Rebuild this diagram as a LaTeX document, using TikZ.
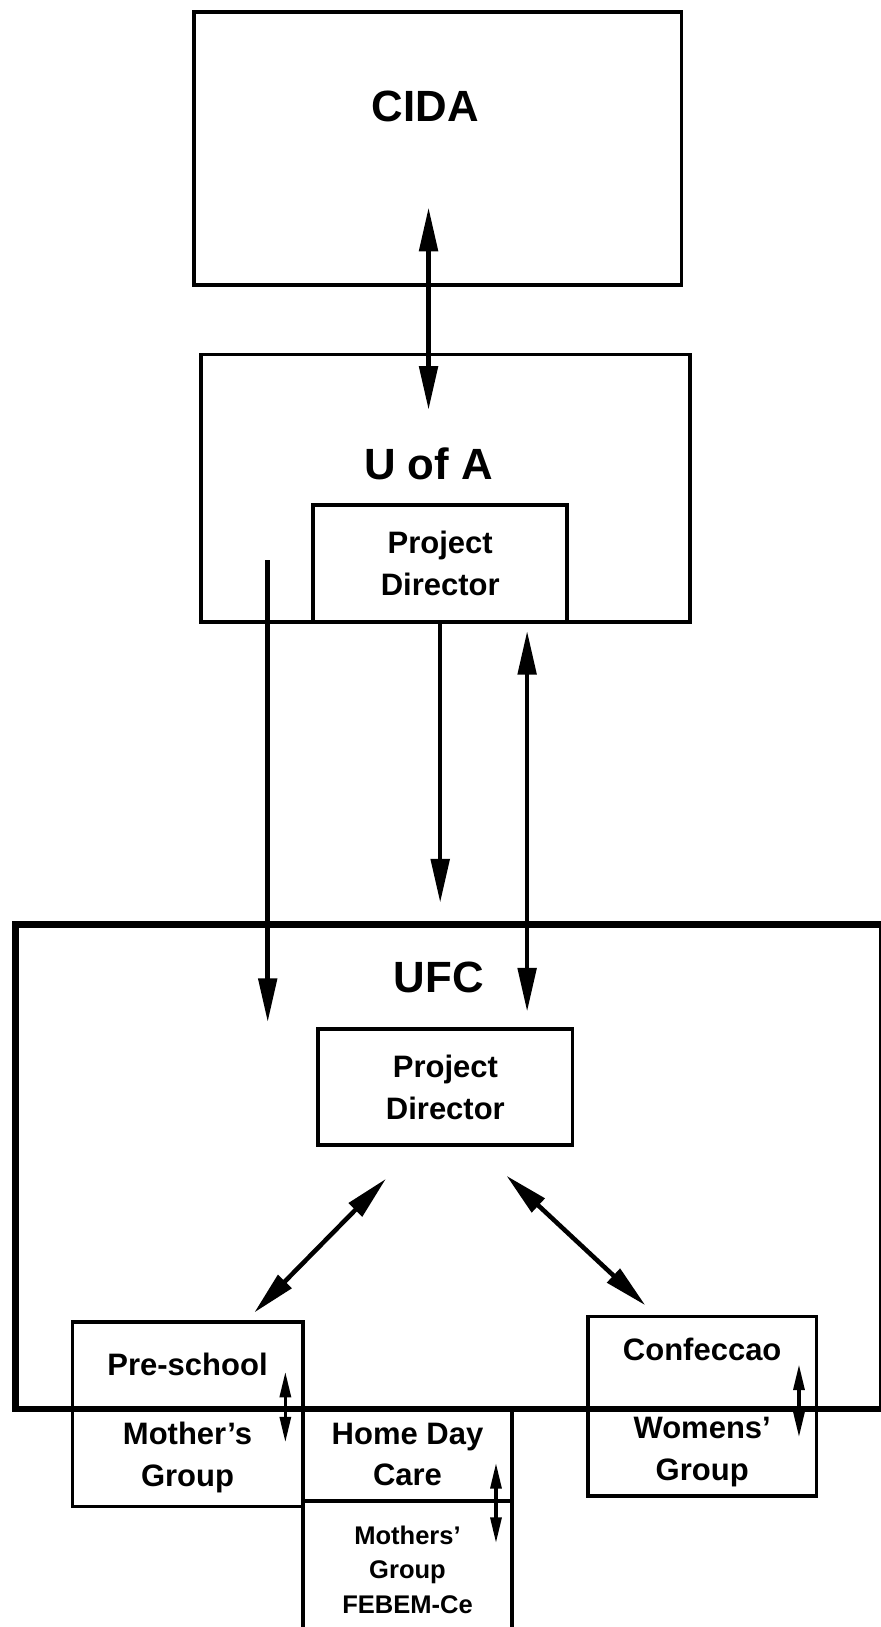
\documentclass[tikz,border=0pt]{standalone}
\usepackage{fontspec}
\setmainfont{Liberation Sans}
\usetikzlibrary{arrows.meta}

\begin{document}
\begin{tikzpicture}[x=0.02cm,y=-0.02cm,
  box/.style={draw,line width=2pt,inner sep=0pt,anchor=north west},
  big/.style={font=\fontsize{24}{28}\selectfont\bfseries},
  mid/.style={font=\fontsize{17}{23}\selectfont\bfseries,align=center},
  small/.style={font=\fontsize{14}{19}\selectfont\bfseries,align=center},
  oneway/.style={line width=2.5pt,-{Triangle[length=24pt,width=10pt]}},
  twoway/.style={line width=2.5pt,{Triangle[length=24pt,width=10pt]}-{Triangle[length=24pt,width=10pt]}},
  tinyway/.style={line width=1.8pt,{Triangle[length=14pt,width=6pt]}-{Triangle[length=14pt,width=6pt]}}]
  \useasboundingbox (0,0) rectangle (849,1568);

  % --- CIDA ---
  \node[box,minimum width=9.4cm,minimum height=5.26cm] (cida) at (185,10) {};
  \node[big] (cidatxt) at (410,103) {CIDA};

  % --- U of A, with its project director ---
  \node[box,minimum width=9.42cm,minimum height=5.16cm] (ua) at (192,340) {};
  \node[big] (uatxt) at (413,447) {U of A};
  \node[box,mid,minimum width=4.9cm,minimum height=2.26cm] (uapd) at (300,485) {Project\\Director};

  % --- UFC: heavier frame, runs off the right edge ---
  \node[box,line width=3.4pt,minimum width=16.7cm,minimum height=9.34cm] (ufc) at (12,888) {};
  \node[big] (ufctxt) at (423,942) {UFC};
  \node[box,mid,minimum width=4.9cm,minimum height=2.24cm] (ufcpd) at (305,990) {Project\\Director};

  % --- Projects straddling the bottom edge of UFC ---
  \node[box,mid,minimum width=4.44cm,minimum height=1.66cm] (pre) at (68,1272) {Pre-school};
  \node[box,mid,minimum width=4.44cm,minimum height=1.9cm] (mgrp) at (68,1355) {Mother's\\Group};
  \node[box,mid,minimum width=4.04cm,minimum height=1.8cm] (hdc) at (290,1355) {Home Day\\Care};
  \node[box,small,minimum width=4.04cm,minimum height=2.64cm] (febem) at (290,1445) {Mothers'\\Group\\FEBEM-Ce};
  \node[box,mid,minimum width=4.4cm,minimum height=1.76cm,text depth=0.5cm] (conf) at (565,1267) {Confeccao};
  \node[box,mid,minimum width=4.4cm,minimum height=1.7cm] (wgrp) at (565,1355) {Womens'\\Group};

  % --- Arrow ends ---
  \coordinate (cidaend) at (413,200);
  \coordinate (uaend)   at (413,395);
  \coordinate (lefttop) at (258,540);
  \coordinate (leftend) at (258,985);
  \coordinate (midend)  at (uapd.south |- 0,870);
  \coordinate (righttop) at (508,608);
  \coordinate (rightend) at (508,975);
  \coordinate (pdleft)  at (372,1136);
  \coordinate (preend)  at (245,1265);
  \coordinate (pdright) at (488,1133);
  \coordinate (confend) at (622,1258);

  % --- Links between levels ---
  \draw[twoway] (cidaend) -- (uaend);
  \draw[oneway] (lefttop) -- (leftend);
  \draw[oneway] (uapd.south) -- (midend);
  \draw[twoway] (righttop) -- (rightend);
  \draw[twoway] (pdleft) -- (preend);
  \draw[twoway] (pdright) -- (confend);

  % --- Small links inside the project boxes ---
  \coordinate (pretop) at (275,1322);
  \coordinate (prebot) at (275,1390);
  \coordinate (hdctop) at (478,1410);
  \coordinate (hdcbot) at (478,1487);
  \coordinate (conftop) at (770,1315);
  \coordinate (confbot) at (770,1385);
  \draw[tinyway] (pretop) -- (prebot);
  \draw[tinyway] (hdctop) -- (hdcbot);
  \draw[tinyway] (conftop) -- (confbot);
\end{tikzpicture}
\end{document}
